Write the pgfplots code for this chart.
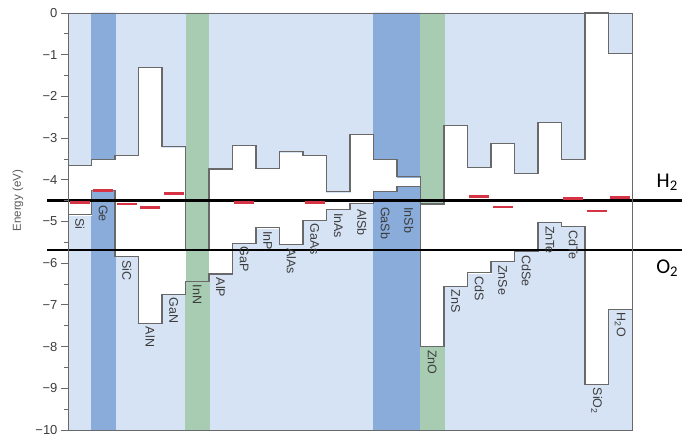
\documentclass[border=0pt]{standalone}
\usepackage{fontspec}
\setmainfont{Liberation Sans}
\newfontfamily\levelfont{Carlito}
\usepackage{pgfplots}
\pgfplotsset{compat=1.18}
\usepackage{pgfplotstable}

\definecolor{bandbg}{RGB}{213,227,244}
\definecolor{hiblue}{RGB}{137,172,219}
\definecolor{higreen}{RGB}{168,204,178}
\definecolor{redox}{RGB}{214,52,68}
\definecolor{edge}{RGB}{105,105,105}
\definecolor{tickgray}{RGB}{60,60,60}
\definecolor{labelgray}{RGB}{90,90,90}

% band edges (eV vs vacuum): conduction band, valence band, highlight class, label height
% hi: 0 plain, 1 blue column, 2 green column, 3 green column without gap, 9 closing row
\pgfplotstableread{
x  cb     vb     hi  ly     name
0  -3.66  -4.84  0   -4.84  Si
1  -3.51  -4.25  1   -4.52  Ge
2  -3.41  -5.84  0   -5.84  SiC
3  -1.31  -7.44  0   -7.44  AlN
4  -3.21  -6.74  0   -6.74  GaN
5  -5.69  -6.43  3   -6.43  InN
6  -3.74  -6.26  0   -6.26  AlP
7  -3.17  -5.52  0   -5.52  GaP
8  -3.73  -5.15  0   -5.15  InP
9  -3.33  -5.55  0   -5.55  AlAs
10 -3.42  -4.97  0   -4.97  GaAs
11 -4.29  -4.71  0   -4.71  InAs
12 -2.91  -4.57  0   -4.62  AlSb
13 -3.51  -4.28  1   -4.57  GaSb
14 -3.93  -4.16  1   -4.57  InSb
15 -4.58  -8.00  2   -8.00  ZnO
16 -2.70  -6.55  0   -6.55  ZnS
17 -3.70  -6.23  0   -6.23  CdS
18 -3.13  -5.96  0   -5.96  ZnSe
19 -3.85  -5.72  0   -5.72  CdSe
20 -2.63  -5.02  0   -5.02  ZnTe
21 -3.51  -5.12  0   -5.12  CdTe
22  0.00  -8.90  0   -8.90  SiO\textsubscript{2}
23 -0.97  -7.10  0   -7.10  H\textsubscript{2}O
24 -0.97  -7.10  9   -7.10  end
}\bands

% redox / flat-band markers
\pgfplotstableread{
x     e
0.5   -4.55
1.5   -4.26
2.5   -4.58
3.5   -4.67
4.5   -4.33
7.5   -4.55
10.5  -4.55
17.5  -4.40
18.5  -4.65
21.5  -4.45
22.5  -4.75
23.5  -4.43
}\redox

\begin{document}
\begin{tikzpicture}
\path[use as bounding box] (0,0) rectangle (682pt,438pt);
\begin{axis}[
  at={(68pt,8pt)}, anchor=south west,
  scale only axis, width=564pt, height=417pt,
  xmin=0, xmax=24, ymin=-10, ymax=0,
  clip=false,
  axis on top,
  axis background/.style={fill=bandbg},
  axis line style={draw=edge, line width=0.8pt},
  xtick=\empty,
  ytick={-10,-9,...,0},
  yticklabels={−10,−9,−8,−7,−6,−5,−4,−3,−2,−1,0},
  minor y tick num=1,
  ytick pos=left,
  tick align=outside,
  major tick length=7pt, minor tick length=4pt,
  tick style={draw=edge, line width=0.8pt},
  yticklabel style={font=\fontsize{13}{13}\selectfont, text=tickgray},
  ylabel={Energy (eV)},
  ylabel style={font=\fontsize{11.5}{12}\selectfont, text=labelgray,
    at={(axis description cs:-0.0887,0.55)}, anchor=center},
]
% highlighted columns, full height
\addplot[ybar, bar width=1, bar shift=0pt, fill=hiblue, draw=hiblue, line width=0.4pt]
  table[x expr=\thisrow{x}+0.5, y expr=-10, restrict expr to domain={\thisrow{hi}}{1:1}] {\bands};
\addplot[ybar, bar width=1, bar shift=0pt, fill=higreen, draw=higreen, line width=0.4pt]
  table[x expr=\thisrow{x}+0.5, y expr=-10, restrict expr to domain={\thisrow{hi}}{2:3}] {\bands};
% band gap (white) from the valence band upwards
\addplot[ybar, bar width=1, bar shift=0pt, fill=white, draw=white, line width=0.4pt]
  table[x expr=\thisrow{x}+0.5, y=vb, restrict expr to domain={\thisrow{hi}}{0:2}] {\bands};
% region above the conduction band
\addplot[ybar, bar width=1, bar shift=0pt, fill=bandbg, draw=bandbg, line width=0.4pt]
  table[x expr=\thisrow{x}+0.5, y=cb, restrict expr to domain={\thisrow{hi}}{0:0}] {\bands};
\addplot[ybar, bar width=1, bar shift=0pt, fill=hiblue, draw=hiblue, line width=0.4pt]
  table[x expr=\thisrow{x}+0.5, y=cb, restrict expr to domain={\thisrow{hi}}{1:1}] {\bands};
\addplot[ybar, bar width=1, bar shift=0pt, fill=higreen, draw=higreen, line width=0.4pt]
  table[x expr=\thisrow{x}+0.5, y=cb, restrict expr to domain={\thisrow{hi}}{2:2}] {\bands};
% band edge outlines
\addplot[const plot, draw=edge, line width=1.1pt] table[x=x, y=cb] {\bands};
\addplot[const plot, draw=edge, line width=1.1pt] table[x=x, y=vb] {\bands};
% material names below the valence band
\addplot[draw=none, mark=none, nodes near coords, point meta=explicit symbolic,
  every node near coord/.append style={rotate=-90, anchor=west, inner sep=3.5pt,
    font=\fontsize{12.5}{13}\selectfont, text=tickgray}]
  table[x expr=\thisrow{x}+0.5, y=ly, meta=name, restrict expr to domain={\thisrow{hi}}{0:3}] {\bands};
% redox markers
\addplot[only marks, mark=-, mark size=10pt, mark options={draw=redox, line width=2.6pt}]
  table[x=x, y=e] {\redox};
% water redox levels
\addplot[black, line width=0.9pt, dash pattern=on 4pt off 2.5pt] coordinates {(0,-4.53) (24,-4.53)};
\addplot[black, line width=2.3pt] coordinates {(-0.9,-4.50) (26.13,-4.50)};
\addplot[black, line width=2.3pt] coordinates {(-0.9,-5.69) (26.13,-5.69)};
\node[font=\levelfont\fontsize{21}{22}\selectfont, anchor=center] at (axis cs:25.5,-4.05) {H\textsubscript{2}};
\node[font=\levelfont\fontsize{21}{22}\selectfont, anchor=center] at (axis cs:25.5,-6.12) {O\textsubscript{2}};
\end{axis}
\end{tikzpicture}
\end{document}
